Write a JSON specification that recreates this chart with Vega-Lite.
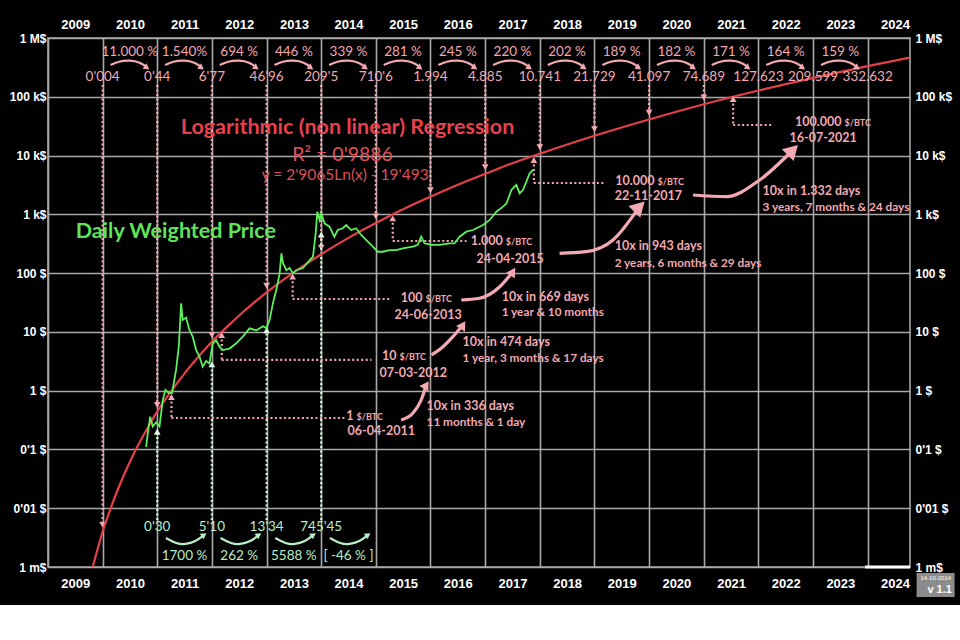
{
  "$schema": "https://vega.github.io/schema/vega-lite/v6.json",
  "width": 862,
  "height": 529,
  "autosize": {"type": "none"},
  "padding": {"left": 48, "right": 50, "top": 38, "bottom": 38},
  "background": "black",
  "config": {
    "view": {"stroke": "#a9a9a9", "strokeWidth": 1.6},
    "axis": {"titleOpacity": 0}
  },
  "datasets": {
    "curve": [
      {"date": "2009-10-27", "price": 0.001},
      {"date": "2009-11-08", "price": 0.0013},
      {"date": "2009-11-25", "price": 0.00187},
      {"date": "2009-12-10", "price": 0.00255},
      {"date": "2010-01-01", "price": 0.004},
      {"date": "2010-02-13", "price": 0.00834},
      {"date": "2010-04-04", "price": 0.01834},
      {"date": "2010-05-24", "price": 0.03713},
      {"date": "2010-07-13", "price": 0.0703},
      {"date": "2010-09-01", "price": 0.1258},
      {"date": "2010-10-21", "price": 0.2149},
      {"date": "2011-01-01", "price": 0.44},
      {"date": "2011-03-20", "price": 0.863},
      {"date": "2011-06-28", "price": 1.897},
      {"date": "2011-10-06", "price": 3.84},
      {"date": "2012-01-01", "price": 6.77},
      {"date": "2012-04-23", "price": 13.01},
      {"date": "2012-07-02", "price": 19.02},
      {"date": "2012-10-01", "price": 30.2},
      {"date": "2013-01-01", "price": 46.96},
      {"date": "2013-07-02", "price": 103.2},
      {"date": "2014-01-01", "price": 209.5},
      {"date": "2014-07-02", "price": 397},
      {"date": "2015-01-01", "price": 710.6},
      {"date": "2015-07-02", "price": 1220},
      {"date": "2016-01-01", "price": 1994},
      {"date": "2016-07-02", "price": 3195},
      {"date": "2017-01-01", "price": 4885},
      {"date": "2017-07-02", "price": 7397},
      {"date": "2018-01-01", "price": 10741},
      {"date": "2019-01-01", "price": 21729},
      {"date": "2020-01-01", "price": 41097},
      {"date": "2021-01-01", "price": 74689},
      {"date": "2022-01-01", "price": 127623},
      {"date": "2023-01-01", "price": 209599},
      {"date": "2024-01-01", "price": 332632},
      {"date": "2024-10-10", "price": 464400}
    ],
    "btc": [
      {"date": "2010-10-19", "price": 0.11},
      {"date": "2010-10-30", "price": 0.19},
      {"date": "2010-11-15", "price": 0.36},
      {"date": "2010-12-02", "price": 0.245},
      {"date": "2010-12-25", "price": 0.29},
      {"date": "2011-01-16", "price": 0.245},
      {"date": "2011-02-07", "price": 0.69},
      {"date": "2011-02-25", "price": 1.03},
      {"date": "2011-03-19", "price": 0.91},
      {"date": "2011-04-10", "price": 0.91},
      {"date": "2011-05-07", "price": 2.25},
      {"date": "2011-05-25", "price": 5.6},
      {"date": "2011-06-10", "price": 30.6},
      {"date": "2011-06-20", "price": 16},
      {"date": "2011-07-13", "price": 17.5},
      {"date": "2011-08-04", "price": 10.8},
      {"date": "2011-08-26", "price": 8.3},
      {"date": "2011-09-18", "price": 4.9},
      {"date": "2011-10-10", "price": 3.8},
      {"date": "2011-11-01", "price": 2.56},
      {"date": "2011-11-24", "price": 3.2},
      {"date": "2011-12-16", "price": 2.9},
      {"date": "2012-01-07", "price": 6.4},
      {"date": "2012-01-30", "price": 7.2},
      {"date": "2012-02-21", "price": 5.6},
      {"date": "2012-03-14", "price": 4.9},
      {"date": "2012-04-28", "price": 5.2},
      {"date": "2012-06-12", "price": 6.4},
      {"date": "2012-07-26", "price": 8.3},
      {"date": "2012-09-09", "price": 11.5},
      {"date": "2012-10-24", "price": 10.6},
      {"date": "2012-12-07", "price": 12.5},
      {"date": "2012-12-30", "price": 11.6},
      {"date": "2013-01-21", "price": 15.9},
      {"date": "2013-02-12", "price": 30.6},
      {"date": "2013-03-07", "price": 52},
      {"date": "2013-03-29", "price": 99},
      {"date": "2013-04-10", "price": 217},
      {"date": "2013-04-20", "price": 148},
      {"date": "2013-05-13", "price": 112},
      {"date": "2013-06-04", "price": 122},
      {"date": "2013-06-26", "price": 99},
      {"date": "2013-07-18", "price": 112},
      {"date": "2013-09-01", "price": 122},
      {"date": "2013-10-16", "price": 167},
      {"date": "2013-11-07", "price": 190},
      {"date": "2013-11-25", "price": 476},
      {"date": "2013-12-06", "price": 1110},
      {"date": "2013-12-21", "price": 802},
      {"date": "2014-01-01", "price": 1040},
      {"date": "2014-01-23", "price": 703},
      {"date": "2014-02-25", "price": 617},
      {"date": "2014-03-30", "price": 417},
      {"date": "2014-04-21", "price": 541},
      {"date": "2014-05-25", "price": 580},
      {"date": "2014-06-17", "price": 657},
      {"date": "2014-07-20", "price": 541},
      {"date": "2014-08-22", "price": 580},
      {"date": "2014-09-25", "price": 445},
      {"date": "2014-10-28", "price": 366},
      {"date": "2014-12-12", "price": 282},
      {"date": "2015-01-14", "price": 231},
      {"date": "2015-02-17", "price": 231},
      {"date": "2015-04-03", "price": 247},
      {"date": "2015-05-17", "price": 247},
      {"date": "2015-06-30", "price": 263},
      {"date": "2015-09-05", "price": 282},
      {"date": "2015-10-08", "price": 302},
      {"date": "2015-10-31", "price": 417},
      {"date": "2015-11-22", "price": 321},
      {"date": "2016-01-06", "price": 302},
      {"date": "2016-03-02", "price": 302},
      {"date": "2016-05-08", "price": 321},
      {"date": "2016-06-10", "price": 321},
      {"date": "2016-07-14", "price": 417},
      {"date": "2016-08-28", "price": 507},
      {"date": "2016-10-11", "price": 541},
      {"date": "2016-12-17", "price": 657},
      {"date": "2017-01-31", "price": 802},
      {"date": "2017-03-17", "price": 1110},
      {"date": "2017-04-30", "price": 1350},
      {"date": "2017-05-23", "price": 1530},
      {"date": "2017-06-25", "price": 2590},
      {"date": "2017-07-28", "price": 3160},
      {"date": "2017-08-19", "price": 2280},
      {"date": "2017-09-10", "price": 2590},
      {"date": "2017-10-03", "price": 3600},
      {"date": "2017-10-25", "price": 4990},
      {"date": "2017-11-16", "price": 5680}
    ],
    "vdrop": [
      {"date": "2010-01-01", "top": 158600, "tip": 0.0052},
      {"date": "2011-01-01", "top": 158600, "tip": 0.57},
      {"date": "2012-01-01", "top": 158600, "tip": 8.8},
      {"date": "2013-01-01", "top": 158600, "tip": 61},
      {"date": "2014-01-01", "top": 158600, "tip": 272},
      {"date": "2015-01-01", "top": 158600, "tip": 924},
      {"date": "2016-01-01", "top": 158600, "tip": 2590},
      {"date": "2017-01-01", "top": 158600, "tip": 6350},
      {"date": "2018-01-01", "top": 158600, "tip": 13960},
      {"date": "2019-01-01", "top": 158600, "tip": 28250},
      {"date": "2020-01-01", "top": 158600, "tip": 53430},
      {"date": "2021-01-01", "top": 158600, "tip": 97100}
    ],
    "gdrop": [
      {"date": "2011-01-01", "bottom": 0.0063, "tip": 0.2},
      {"date": "2012-01-01", "bottom": 0.0063, "tip": 2.8},
      {"date": "2013-01-01", "bottom": 0.0063, "tip": 10.6},
      {"date": "2014-01-01", "bottom": 0.0063, "tip": 450}
    ],
    "mvert": [
      {"date": "2011-04-06", "p1": 0.78, "p2": 0.343},
      {"date": "2012-03-07", "p1": 8.86, "p2": 3.33},
      {"date": "2013-06-24", "p1": 86.9, "p2": 36.3},
      {"date": "2015-04-24", "p1": 856, "p2": 352},
      {"date": "2017-11-22", "p1": 8405, "p2": 3414},
      {"date": "2021-07-16", "p1": 91700, "p2": 33100}
    ],
    "mhoriz": [
      {"date": "2011-04-06", "date2": "2014-06-06", "price": 0.343},
      {"date": "2012-03-07", "date2": "2014-12-03", "price": 3.33},
      {"date": "2013-06-24", "date2": "2015-04-16", "price": 36.3},
      {"date": "2015-04-24", "date2": "2016-08-29", "price": 352},
      {"date": "2017-11-22", "date2": "2019-03-09", "price": 3414},
      {"date": "2021-07-16", "date2": "2022-04-06", "price": 33100}
    ],
    "mtri": [
      {"date": "2011-04-06", "price": 0.78},
      {"date": "2012-03-07", "price": 8.86},
      {"date": "2013-06-24", "price": 86.9},
      {"date": "2015-04-24", "price": 856},
      {"date": "2017-11-22", "price": 8405},
      {"date": "2021-07-16", "price": 91700}
    ],
    "arcs": [
      {"g": 2010, "date": "2010-02-23", "price": 347000}, {"g": 2010, "date": "2010-04-20", "price": 395000}, {"g": 2010, "date": "2010-07-02", "price": 411000}, {"g": 2010, "date": "2010-09-05", "price": 380000}, {"g": 2010, "date": "2010-10-19", "price": 325000},
      {"g": 2011, "date": "2011-02-23", "price": 347000}, {"g": 2011, "date": "2011-04-20", "price": 395000}, {"g": 2011, "date": "2011-07-02", "price": 411000}, {"g": 2011, "date": "2011-09-05", "price": 380000}, {"g": 2011, "date": "2011-10-19", "price": 325000},
      {"g": 2012, "date": "2012-02-23", "price": 347000}, {"g": 2012, "date": "2012-04-20", "price": 395000}, {"g": 2012, "date": "2012-07-02", "price": 411000}, {"g": 2012, "date": "2012-09-05", "price": 380000}, {"g": 2012, "date": "2012-10-19", "price": 325000},
      {"g": 2013, "date": "2013-02-23", "price": 347000}, {"g": 2013, "date": "2013-04-20", "price": 395000}, {"g": 2013, "date": "2013-07-02", "price": 411000}, {"g": 2013, "date": "2013-09-05", "price": 380000}, {"g": 2013, "date": "2013-10-19", "price": 325000},
      {"g": 2014, "date": "2014-02-23", "price": 347000}, {"g": 2014, "date": "2014-04-20", "price": 395000}, {"g": 2014, "date": "2014-07-02", "price": 411000}, {"g": 2014, "date": "2014-09-05", "price": 380000}, {"g": 2014, "date": "2014-10-19", "price": 325000},
      {"g": 2015, "date": "2015-02-23", "price": 347000}, {"g": 2015, "date": "2015-04-20", "price": 395000}, {"g": 2015, "date": "2015-07-02", "price": 411000}, {"g": 2015, "date": "2015-09-05", "price": 380000}, {"g": 2015, "date": "2015-10-19", "price": 325000},
      {"g": 2016, "date": "2016-02-23", "price": 347000}, {"g": 2016, "date": "2016-04-20", "price": 395000}, {"g": 2016, "date": "2016-07-02", "price": 411000}, {"g": 2016, "date": "2016-09-05", "price": 380000}, {"g": 2016, "date": "2016-10-19", "price": 325000},
      {"g": 2017, "date": "2017-02-23", "price": 347000}, {"g": 2017, "date": "2017-04-20", "price": 395000}, {"g": 2017, "date": "2017-07-02", "price": 411000}, {"g": 2017, "date": "2017-09-05", "price": 380000}, {"g": 2017, "date": "2017-10-19", "price": 325000},
      {"g": 2018, "date": "2018-02-23", "price": 347000}, {"g": 2018, "date": "2018-04-20", "price": 395000}, {"g": 2018, "date": "2018-07-02", "price": 411000}, {"g": 2018, "date": "2018-09-05", "price": 380000}, {"g": 2018, "date": "2018-10-19", "price": 325000},
      {"g": 2019, "date": "2019-02-23", "price": 347000}, {"g": 2019, "date": "2019-04-20", "price": 395000}, {"g": 2019, "date": "2019-07-02", "price": 411000}, {"g": 2019, "date": "2019-09-05", "price": 380000}, {"g": 2019, "date": "2019-10-19", "price": 325000},
      {"g": 2020, "date": "2020-02-23", "price": 347000}, {"g": 2020, "date": "2020-04-20", "price": 395000}, {"g": 2020, "date": "2020-07-02", "price": 411000}, {"g": 2020, "date": "2020-09-05", "price": 380000}, {"g": 2020, "date": "2020-10-19", "price": 325000},
      {"g": 2021, "date": "2021-02-23", "price": 347000}, {"g": 2021, "date": "2021-04-20", "price": 395000}, {"g": 2021, "date": "2021-07-02", "price": 411000}, {"g": 2021, "date": "2021-09-05", "price": 380000}, {"g": 2021, "date": "2021-10-19", "price": 325000},
      {"g": 2022, "date": "2022-02-23", "price": 347000}, {"g": 2022, "date": "2022-04-20", "price": 395000}, {"g": 2022, "date": "2022-07-02", "price": 411000}, {"g": 2022, "date": "2022-09-05", "price": 380000}, {"g": 2022, "date": "2022-10-19", "price": 325000},
      {"g": 2023, "date": "2023-02-23", "price": 347000}, {"g": 2023, "date": "2023-04-20", "price": 395000}, {"g": 2023, "date": "2023-07-02", "price": 411000}, {"g": 2023, "date": "2023-09-05", "price": 380000}, {"g": 2023, "date": "2023-10-19", "price": 325000}
    ],
    "archeads": [
      {"date": "2010-10-24", "price": 312000}, {"date": "2011-10-24", "price": 312000}, {"date": "2012-10-24", "price": 312000}, {"date": "2013-10-24", "price": 312000}, {"date": "2014-10-24", "price": 312000}, {"date": "2015-10-24", "price": 312000}, {"date": "2016-10-24", "price": 312000}, {"date": "2017-10-24", "price": 312000}, {"date": "2018-10-24", "price": 312000}, {"date": "2019-10-24", "price": 312000}, {"date": "2020-10-24", "price": 312000}, {"date": "2021-10-24", "price": 312000}, {"date": "2022-10-24", "price": 312000}, {"date": "2023-10-24", "price": 312000}
    ],
    "garcs": [
      {"g": 2011, "date": "2011-02-28", "price": 0.00312}, {"g": 2011, "date": "2011-05-08", "price": 0.002565}, {"g": 2011, "date": "2011-07-09", "price": 0.002466}, {"g": 2011, "date": "2011-09-13", "price": 0.002773}, {"g": 2011, "date": "2011-11-03", "price": 0.003373},
      {"g": 2012, "date": "2012-02-28", "price": 0.00312}, {"g": 2012, "date": "2012-05-08", "price": 0.002565}, {"g": 2012, "date": "2012-07-09", "price": 0.002466}, {"g": 2012, "date": "2012-09-13", "price": 0.002773}, {"g": 2012, "date": "2012-11-03", "price": 0.003373},
      {"g": 2013, "date": "2013-02-28", "price": 0.00312}, {"g": 2013, "date": "2013-05-08", "price": 0.002565}, {"g": 2013, "date": "2013-07-09", "price": 0.002466}, {"g": 2013, "date": "2013-09-13", "price": 0.002773}, {"g": 2013, "date": "2013-11-03", "price": 0.003373},
      {"g": 2014, "date": "2014-02-28", "price": 0.00312}, {"g": 2014, "date": "2014-05-08", "price": 0.002565}, {"g": 2014, "date": "2014-07-09", "price": 0.002466}, {"g": 2014, "date": "2014-09-13", "price": 0.002773}, {"g": 2014, "date": "2014-11-03", "price": 0.003373}
    ],
    "garcheads": [
      {"date": "2011-11-10", "price": 0.00351}, {"date": "2012-11-10", "price": 0.00351}, {"date": "2013-11-10", "price": 0.00351}, {"date": "2014-11-10", "price": 0.00351}
    ],
    "carrows": [
      {"g": "A1", "date": "2015-06-19", "price": 0.317}, {"g": "A1", "date": "2015-09-05", "price": 0.412}, {"g": "A1", "date": "2015-10-31", "price": 0.694}, {"g": "A1", "date": "2015-12-04", "price": 1.249},
      {"g": "A2", "date": "2016-01-08", "price": 4.05}, {"g": "A2", "date": "2016-03-25", "price": 5.6}, {"g": "A2", "date": "2016-05-30", "price": 8.28}, {"g": "A2", "date": "2016-08-05", "price": 13.1},
      {"g": "A3", "date": "2016-07-25", "price": 34.9}, {"g": "A3", "date": "2016-11-24", "price": 37.3}, {"g": "A3", "date": "2017-04-08", "price": 58.7}, {"g": "A3", "date": "2017-07-05", "price": 105.7},
      {"g": "A4", "date": "2018-05-13", "price": 217.4}, {"g": "A4", "date": "2018-11-07", "price": 231.4}, {"g": "A4", "date": "2019-05-05", "price": 366}, {"g": "A4", "date": "2019-10-29", "price": 1349},
      {"g": "A5", "date": "2020-10-21", "price": 2133}, {"g": "A5", "date": "2021-05-31", "price": 1995}, {"g": "A5", "date": "2022-01-09", "price": 3837}, {"g": "A5", "date": "2022-08-19", "price": 12430}
    ],
    "smallheads": [
      {"date": "2015-12-04", "price": 1.249}, {"date": "2016-08-05", "price": 13.1}, {"date": "2017-07-05", "price": 105.7}
    ],
    "bigheads": [
      {"date": "2019-10-29", "price": 1349}, {"date": "2022-08-19", "price": 12430}
    ],
    "pct": [
      {"date": "2010-07-02", "price": 578000, "text": "11.000 %"},
      {"date": "2011-07-02", "price": 578000, "text": "1.540%"},
      {"date": "2012-07-02", "price": 578000, "text": "694 %"},
      {"date": "2013-07-02", "price": 578000, "text": "446 %"},
      {"date": "2014-07-02", "price": 578000, "text": "339 %"},
      {"date": "2015-07-02", "price": 578000, "text": "281 %"},
      {"date": "2016-07-02", "price": 578000, "text": "245 %"},
      {"date": "2017-07-02", "price": 578000, "text": "220 %"},
      {"date": "2018-07-02", "price": 578000, "text": "202 %"},
      {"date": "2019-07-02", "price": 578000, "text": "189 %"},
      {"date": "2020-07-02", "price": 578000, "text": "182 %"},
      {"date": "2021-07-02", "price": 578000, "text": "171 %"},
      {"date": "2022-07-02", "price": 578000, "text": "164 %"},
      {"date": "2023-07-02", "price": 578000, "text": "159 %"}
    ],
    "vals": [
      {"date": "2010-01-01", "price": 217000, "text": "0'004"},
      {"date": "2011-01-01", "price": 217000, "text": "0'44"},
      {"date": "2012-01-01", "price": 217000, "text": "6'77"},
      {"date": "2013-01-01", "price": 217000, "text": "46'96"},
      {"date": "2014-01-01", "price": 217000, "text": "209'5"},
      {"date": "2015-01-01", "price": 217000, "text": "710'6"},
      {"date": "2016-01-01", "price": 217000, "text": "1.994"},
      {"date": "2017-01-01", "price": 217000, "text": "4.885"},
      {"date": "2018-01-01", "price": 217000, "text": "10.741"},
      {"date": "2019-01-01", "price": 217000, "text": "21.729"},
      {"date": "2020-01-01", "price": 217000, "text": "41.097"},
      {"date": "2021-01-01", "price": 217000, "text": "74.689"},
      {"date": "2022-01-01", "price": 217000, "text": "127.623"},
      {"date": "2023-01-01", "price": 217000, "text": "209.599"},
      {"date": "2024-01-01", "price": 217000, "text": "332.632"}
    ],
    "glabels": [
      {"date": "2011-01-01", "price": 0.0048, "text": "0'30"},
      {"date": "2012-01-01", "price": 0.0048, "text": "5'10"},
      {"date": "2013-01-01", "price": 0.0048, "text": "13'34"},
      {"date": "2014-01-01", "price": 0.0048, "text": "745'45"}
    ],
    "gpct": [
      {"date": "2011-07-02", "price": 0.00154, "text": "1700 %"},
      {"date": "2012-07-02", "price": 0.00154, "text": "262 %"},
      {"date": "2013-07-02", "price": 0.00154, "text": "5588 %"},
      {"date": "2014-07-02", "price": 0.00154, "text": "[ -46 % ]"}
    ],
    "mnum": [
      {"date": "2014-08-05", "price": 0.3566, "text": "1", "unit": "$/BTC"},
      {"date": "2015-05-19", "price": 3.74, "text": "10", "unit": "$/BTC"},
      {"date": "2015-11-09", "price": 36.3, "text": "100", "unit": "$/BTC"},
      {"date": "2017-04-28", "price": 338, "text": "1.000", "unit": "$/BTC"},
      {"date": "2020-02-07", "price": 3549, "text": "10.000", "unit": "$/BTC"},
      {"date": "2023-07-10", "price": 35800, "text": "100.000", "unit": "$/BTC"}
    ],
    "mdate": [
      {"date": "2014-06-26", "price": 0.2144, "text": "06-04-2011"},
      {"date": "2015-01-26", "price": 2.08, "text": "07-03-2012"},
      {"date": "2015-05-06", "price": 20.2, "text": "24-06-2013"},
      {"date": "2016-11-04", "price": 181, "text": "24-04-2015"},
      {"date": "2019-05-16", "price": 2133, "text": "22-11-2017"},
      {"date": "2022-07-28", "price": 20690, "text": "16-07-2021"}
    ],
    "tenx1": [
      {"date": "2015-12-06", "price": 0.528, "text": "10x in 336 days"},
      {"date": "2016-08-03", "price": 6.47, "text": "10x in 474 days"},
      {"date": "2017-04-21", "price": 37.7, "text": "10x in 669 days"},
      {"date": "2019-05-16", "price": 278, "text": "10x in 943 days"},
      {"date": "2022-01-29", "price": 2400, "text": "10x  in 1.332 days"}
    ],
    "tenx2": [
      {"date": "2015-12-06", "price": 0.305, "text": "11 months & 1 day"},
      {"date": "2016-08-03", "price": 3.74, "text": "1 year, 3 months & 17 days"},
      {"date": "2017-04-21", "price": 22.7, "text": "1 year & 10 months"},
      {"date": "2019-05-16", "price": 154.6, "text": "2 years, 6 months & 29 days"},
      {"date": "2022-01-29", "price": 1387, "text": "3 years, 7 months & 24 days"}
    ],
    "title1": [{"date": "2014-06-26", "price": 29430, "text": "Logarithmic (non linear) Regression"}],
    "title2": [{"date": "2014-05-24", "price": 10220, "text": "R² = 0'9886"}],
    "title3": [{"date": "2014-06-10", "price": 4670, "text": "y = 2'9065Ln(x) - 19'493"}],
    "greentitle": [{"date": "2011-05-05", "price": 500.6, "text": "Daily Weighted Price"}],
    "whitebar": [{"date": "2023-12-15", "date2": "2024-10-10", "price": 0.001}],
    "badge": [{"date": "2024-11-23", "date2": "2025-08-04", "price": 0.00079, "price2": 0.000309}],
    "badge1": [{"date": "2025-03-31", "price": 0.00066, "text": "14-10-2014"}],
    "badge2": [{"date": "2025-04-26", "price": 0.000406, "text": "v 1.1"}]
  },
  "layer": [
    {
      "layer": [
        {
          "data": {"name": "vdrop"},
          "mark": {"type": "rule", "color": "#f3a9b1", "strokeWidth": 2.2, "strokeDash": [2, 2.5]},
          "encoding": {
            "x": {
              "field": "date", "type": "temporal",
              "scale": {"domain": [{"year": 2009, "month": 1, "date": 1}, {"year": 2024, "month": 10, "date": 10}], "nice": false},
              "axis": {
                "orient": "bottom", "title": null,
                "values": [{"year": 2009}, {"year": 2010}, {"year": 2011}, {"year": 2012}, {"year": 2013}, {"year": 2014}, {"year": 2015}, {"year": 2016}, {"year": 2017}, {"year": 2018}, {"year": 2019}, {"year": 2020}, {"year": 2021}, {"year": 2022}, {"year": 2023}, {"year": 2024}],
                "format": "%Y", "grid": true, "gridColor": "#a9a9a9", "gridWidth": 1.6, "gridOpacity": 1,
                "ticks": false, "tickSize": 0, "domain": false,
                "labelOffset": 27.3, "labelPadding": 16, "labelBaseline": "middle", "labelFlush": false, "labelOverlap": false, "labelBound": false,
                "labelColor": "white", "labelFont": "Liberation Sans", "labelFontWeight": "bold", "labelFontSize": 13
              }
            },
            "y": {
              "field": "top", "type": "quantitative",
              "scale": {"type": "log", "domain": [0.001, 1000000], "nice": false},
              "axis": {
                "orient": "left", "title": null,
                "values": [0.001, 0.01, 0.1, 1, 10, 100, 1000, 10000, 100000, 1000000],
                "labelExpr": "datum.value >= 999999 ? '1 M$' : datum.value >= 99999 ? '100 k$' : datum.value >= 9999 ? '10 k$' : datum.value >= 999 ? '1 k$' : datum.value >= 99 ? '100 $' : datum.value >= 9 ? '10 $' : datum.value >= 0.9 ? '1 $' : datum.value >= 0.09 ? \"0'1 $\" : datum.value >= 0.009 ? \"0'01 $\" : '1 m$'",
                "grid": true, "gridColor": "#a9a9a9", "gridWidth": 1.6, "gridOpacity": 1,
                "ticks": false, "tickSize": 0, "domain": false,
                "labelPadding": 2, "labelAlign": "right", "labelBaseline": "middle", "labelFlush": false, "labelOverlap": false, "labelBound": false,
                "labelColor": "white", "labelFont": "Liberation Sans", "labelFontWeight": "bold", "labelFontSize": 12
              }
            },
            "y2": {"field": "tip"}
          }
        },
        {
          "data": {"name": "vdrop"},
          "mark": {"type": "point", "shape": "triangle-down", "filled": true, "size": 45, "color": "#f3a9b1", "opacity": 1},
          "encoding": {"x": {"field": "date", "type": "temporal"}, "y": {"field": "tip", "type": "quantitative"}}
        },
        {
          "data": {"name": "gdrop"},
          "mark": {"type": "rule", "color": "#d2f5da", "strokeWidth": 2.2, "strokeDash": [2, 2.5]},
          "encoding": {"x": {"field": "date", "type": "temporal"}, "y": {"field": "bottom", "type": "quantitative"}, "y2": {"field": "tip"}}
        },
        {
          "data": {"name": "gdrop"},
          "mark": {"type": "point", "shape": "triangle-up", "filled": true, "size": 45, "color": "#e6fbe9", "opacity": 1},
          "encoding": {"x": {"field": "date", "type": "temporal"}, "y": {"field": "tip", "type": "quantitative"}}
        },
        {
          "data": {"name": "mvert"},
          "mark": {"type": "rule", "color": "#f3a9b1", "strokeWidth": 2.2, "strokeDash": [2, 2.5]},
          "encoding": {"x": {"field": "date", "type": "temporal"}, "y": {"field": "p1", "type": "quantitative"}, "y2": {"field": "p2"}}
        },
        {
          "data": {"name": "mhoriz"},
          "mark": {"type": "rule", "color": "#f3a9b1", "strokeWidth": 2.2, "strokeDash": [2, 2.5]},
          "encoding": {"x": {"field": "date", "type": "temporal"}, "x2": {"field": "date2"}, "y": {"field": "price", "type": "quantitative"}}
        },
        {
          "data": {"name": "curve"},
          "mark": {"type": "line", "color": "#e5404a", "strokeWidth": 2.2, "interpolate": "monotone"},
          "encoding": {"x": {"field": "date", "type": "temporal"}, "y": {"field": "price", "type": "quantitative"}}
        },
        {
          "data": {"name": "btc"},
          "mark": {"type": "line", "color": "#5cf05a", "strokeWidth": 1.8},
          "encoding": {"x": {"field": "date", "type": "temporal"}, "y": {"field": "price", "type": "quantitative"}}
        },
        {
          "data": {"name": "mtri"},
          "mark": {"type": "point", "shape": "triangle-up", "filled": true, "size": 45, "color": "#f3a9b1", "opacity": 1},
          "encoding": {"x": {"field": "date", "type": "temporal"}, "y": {"field": "price", "type": "quantitative"}}
        },
        {
          "data": {"name": "arcs"},
          "mark": {"type": "line", "color": "#f3a9b1", "strokeWidth": 2.2, "interpolate": "natural"},
          "encoding": {"x": {"field": "date", "type": "temporal"}, "y": {"field": "price", "type": "quantitative"}, "detail": {"field": "g", "type": "nominal"}}
        },
        {
          "data": {"name": "archeads"},
          "mark": {"type": "point", "shape": "triangle-right", "angle": 35, "filled": true, "size": 45, "color": "#f3a9b1", "opacity": 1},
          "encoding": {"x": {"field": "date", "type": "temporal"}, "y": {"field": "price", "type": "quantitative"}}
        },
        {
          "data": {"name": "garcs"},
          "mark": {"type": "line", "color": "#b9efc8", "strokeWidth": 2.2, "interpolate": "natural"},
          "encoding": {"x": {"field": "date", "type": "temporal"}, "y": {"field": "price", "type": "quantitative"}, "detail": {"field": "g", "type": "nominal"}}
        },
        {
          "data": {"name": "garcheads"},
          "mark": {"type": "point", "shape": "triangle-right", "angle": 325, "filled": true, "size": 45, "color": "#b9efc8", "opacity": 1},
          "encoding": {"x": {"field": "date", "type": "temporal"}, "y": {"field": "price", "type": "quantitative"}}
        },
        {
          "data": {"name": "carrows"},
          "mark": {"type": "line", "color": "#f3a9b1", "strokeWidth": 3.2, "interpolate": "monotone"},
          "encoding": {"x": {"field": "date", "type": "temporal"}, "y": {"field": "price", "type": "quantitative"}, "detail": {"field": "g", "type": "nominal"}}
        },
        {
          "data": {"name": "smallheads"},
          "mark": {"type": "point", "shape": "triangle-up", "angle": 32, "filled": true, "size": 110, "color": "#f3a9b1", "opacity": 1},
          "encoding": {"x": {"field": "date", "type": "temporal"}, "y": {"field": "price", "type": "quantitative"}}
        },
        {
          "data": {"name": "bigheads"},
          "mark": {"type": "point", "shape": "triangle-up", "angle": 45, "filled": true, "size": 280, "color": "#f3a9b1", "opacity": 1},
          "encoding": {"x": {"field": "date", "type": "temporal"}, "y": {"field": "price", "type": "quantitative"}}
        },
        {
          "data": {"name": "pct"},
          "mark": {"type": "text", "color": "#f3a9b1", "font": "Lato", "fontSize": 13.5, "align": "center", "baseline": "middle"},
          "encoding": {"x": {"field": "date", "type": "temporal"}, "y": {"field": "price", "type": "quantitative"}, "text": {"field": "text", "type": "nominal"}}
        },
        {
          "data": {"name": "vals"},
          "mark": {"type": "text", "color": "#f3a9b1", "font": "Lato", "fontSize": 13.5, "align": "center", "baseline": "middle"},
          "encoding": {"x": {"field": "date", "type": "temporal"}, "y": {"field": "price", "type": "quantitative"}, "text": {"field": "text", "type": "nominal"}}
        },
        {
          "data": {"name": "glabels"},
          "mark": {"type": "text", "color": "#b9efc8", "font": "Lato", "fontSize": 13.5, "align": "center", "baseline": "middle"},
          "encoding": {"x": {"field": "date", "type": "temporal"}, "y": {"field": "price", "type": "quantitative"}, "text": {"field": "text", "type": "nominal"}}
        },
        {
          "data": {"name": "gpct"},
          "mark": {"type": "text", "color": "#b9efc8", "font": "Lato", "fontSize": 13.5, "align": "center", "baseline": "middle"},
          "encoding": {"x": {"field": "date", "type": "temporal"}, "y": {"field": "price", "type": "quantitative"}, "text": {"field": "text", "type": "nominal"}}
        },
        {
          "data": {"name": "mnum"},
          "mark": {"type": "text", "color": "#f3a9b1", "font": "Lato", "fontWeight": "bold", "fontSize": 12.5, "align": "right", "baseline": "middle", "dy": -1},
          "encoding": {"x": {"field": "date", "type": "temporal"}, "y": {"field": "price", "type": "quantitative"}, "text": {"field": "text", "type": "nominal"}}
        },
        {
          "data": {"name": "mnum"},
          "mark": {"type": "text", "color": "#f3a9b1", "font": "Lato", "fontWeight": "bold", "fontSize": 9, "align": "left", "baseline": "middle", "dx": 3, "dy": 0},
          "encoding": {"x": {"field": "date", "type": "temporal"}, "y": {"field": "price", "type": "quantitative"}, "text": {"field": "unit", "type": "nominal"}}
        },
        {
          "data": {"name": "mdate"},
          "mark": {"type": "text", "color": "#f3a9b1", "font": "Lato", "fontWeight": "bold", "fontSize": 12.5, "align": "left", "baseline": "middle", "dy": 1.5},
          "encoding": {"x": {"field": "date", "type": "temporal"}, "y": {"field": "price", "type": "quantitative"}, "text": {"field": "text", "type": "nominal"}}
        },
        {
          "data": {"name": "tenx1"},
          "mark": {"type": "text", "color": "#f3a9b1", "font": "Lato", "fontWeight": "bold", "fontSize": 12.5, "align": "left", "baseline": "middle", "dy": -1},
          "encoding": {"x": {"field": "date", "type": "temporal"}, "y": {"field": "price", "type": "quantitative"}, "text": {"field": "text", "type": "nominal"}}
        },
        {
          "data": {"name": "tenx2"},
          "mark": {"type": "text", "color": "#f3a9b1", "font": "Lato", "fontWeight": "bold", "fontSize": 11.8, "align": "left", "baseline": "middle", "dy": 1},
          "encoding": {"x": {"field": "date", "type": "temporal"}, "y": {"field": "price", "type": "quantitative"}, "text": {"field": "text", "type": "nominal"}}
        },
        {
          "data": {"name": "title1"},
          "mark": {"type": "text", "color": "#e8414c", "font": "Lato", "fontWeight": "bold", "fontSize": 21.5, "align": "center", "baseline": "middle"},
          "encoding": {"x": {"field": "date", "type": "temporal"}, "y": {"field": "price", "type": "quantitative"}, "text": {"field": "text", "type": "nominal"}}
        },
        {
          "data": {"name": "title2"},
          "mark": {"type": "text", "color": "#e3505a", "font": "Lato", "fontSize": 19.5, "align": "center", "baseline": "middle"},
          "encoding": {"x": {"field": "date", "type": "temporal"}, "y": {"field": "price", "type": "quantitative"}, "text": {"field": "text", "type": "nominal"}}
        },
        {
          "data": {"name": "title3"},
          "mark": {"type": "text", "color": "#d9505a", "font": "Lato", "fontSize": 15.5, "align": "center", "baseline": "middle"},
          "encoding": {"x": {"field": "date", "type": "temporal"}, "y": {"field": "price", "type": "quantitative"}, "text": {"field": "text", "type": "nominal"}}
        },
        {
          "data": {"name": "greentitle"},
          "mark": {"type": "text", "color": "#5ee35a", "font": "Lato", "fontWeight": "bold", "fontSize": 21.5, "align": "center", "baseline": "middle"},
          "encoding": {"x": {"field": "date", "type": "temporal"}, "y": {"field": "price", "type": "quantitative"}, "text": {"field": "text", "type": "nominal"}}
        },
        {
          "data": {"name": "whitebar"},
          "mark": {"type": "rule", "color": "white", "strokeWidth": 3},
          "encoding": {"x": {"field": "date", "type": "temporal"}, "x2": {"field": "date2"}, "y": {"field": "price", "type": "quantitative"}}
        },
        {
          "data": {"name": "badge"},
          "mark": {"type": "rect", "color": "#8c8c8c", "opacity": 1},
          "encoding": {"x": {"field": "date", "type": "temporal"}, "x2": {"field": "date2"}, "y": {"field": "price", "type": "quantitative"}, "y2": {"field": "price2"}}
        },
        {
          "data": {"name": "badge1"},
          "mark": {"type": "text", "color": "white", "font": "Liberation Sans", "fontSize": 6, "align": "center", "baseline": "middle"},
          "encoding": {"x": {"field": "date", "type": "temporal"}, "y": {"field": "price", "type": "quantitative"}, "text": {"field": "text", "type": "nominal"}}
        },
        {
          "data": {"name": "badge2"},
          "mark": {"type": "text", "color": "white", "font": "Liberation Sans", "fontWeight": "bold", "fontSize": 11, "align": "center", "baseline": "middle"},
          "encoding": {"x": {"field": "date", "type": "temporal"}, "y": {"field": "price", "type": "quantitative"}, "text": {"field": "text", "type": "nominal"}}
        }
      ]
    },
    {
      "data": {"name": "vals"},
      "mark": {"type": "point", "opacity": 0},
      "encoding": {
        "x": {
          "field": "date", "type": "temporal",
          "scale": {"domain": [{"year": 2009, "month": 1, "date": 1}, {"year": 2024, "month": 10, "date": 10}], "nice": false},
          "axis": {
            "orient": "top", "title": null,
            "values": [{"year": 2009}, {"year": 2010}, {"year": 2011}, {"year": 2012}, {"year": 2013}, {"year": 2014}, {"year": 2015}, {"year": 2016}, {"year": 2017}, {"year": 2018}, {"year": 2019}, {"year": 2020}, {"year": 2021}, {"year": 2022}, {"year": 2023}, {"year": 2024}],
            "format": "%Y", "grid": false, "ticks": false, "tickSize": 0, "domain": false,
            "labelOffset": 27.3, "labelPadding": 14, "labelBaseline": "middle", "labelFlush": false, "labelOverlap": false, "labelBound": false,
            "labelColor": "white", "labelFont": "Liberation Sans", "labelFontWeight": "bold", "labelFontSize": 13
          }
        },
        "y": {
          "field": "price", "type": "quantitative",
          "scale": {"type": "log", "domain": [0.001, 1000000], "nice": false},
          "axis": {
            "orient": "right", "title": null,
            "values": [0.001, 0.01, 0.1, 1, 10, 100, 1000, 10000, 100000, 1000000],
            "labelExpr": "datum.value >= 999999 ? '1 M$' : datum.value >= 99999 ? '100 k$' : datum.value >= 9999 ? '10 k$' : datum.value >= 999 ? '1 k$' : datum.value >= 99 ? '100 $' : datum.value >= 9 ? '10 $' : datum.value >= 0.9 ? '1 $' : datum.value >= 0.09 ? \"0'1 $\" : datum.value >= 0.009 ? \"0'01 $\" : '1 m$'",
            "grid": false, "ticks": false, "tickSize": 0, "domain": false,
            "labelPadding": 5, "labelAlign": "left", "labelBaseline": "middle", "labelFlush": false, "labelOverlap": false, "labelBound": false,
            "labelColor": "white", "labelFont": "Liberation Sans", "labelFontWeight": "bold", "labelFontSize": 12
          }
        }
      }
    }
  ],
  "resolve": {"axis": {"x": "independent", "y": "independent"}}
}
